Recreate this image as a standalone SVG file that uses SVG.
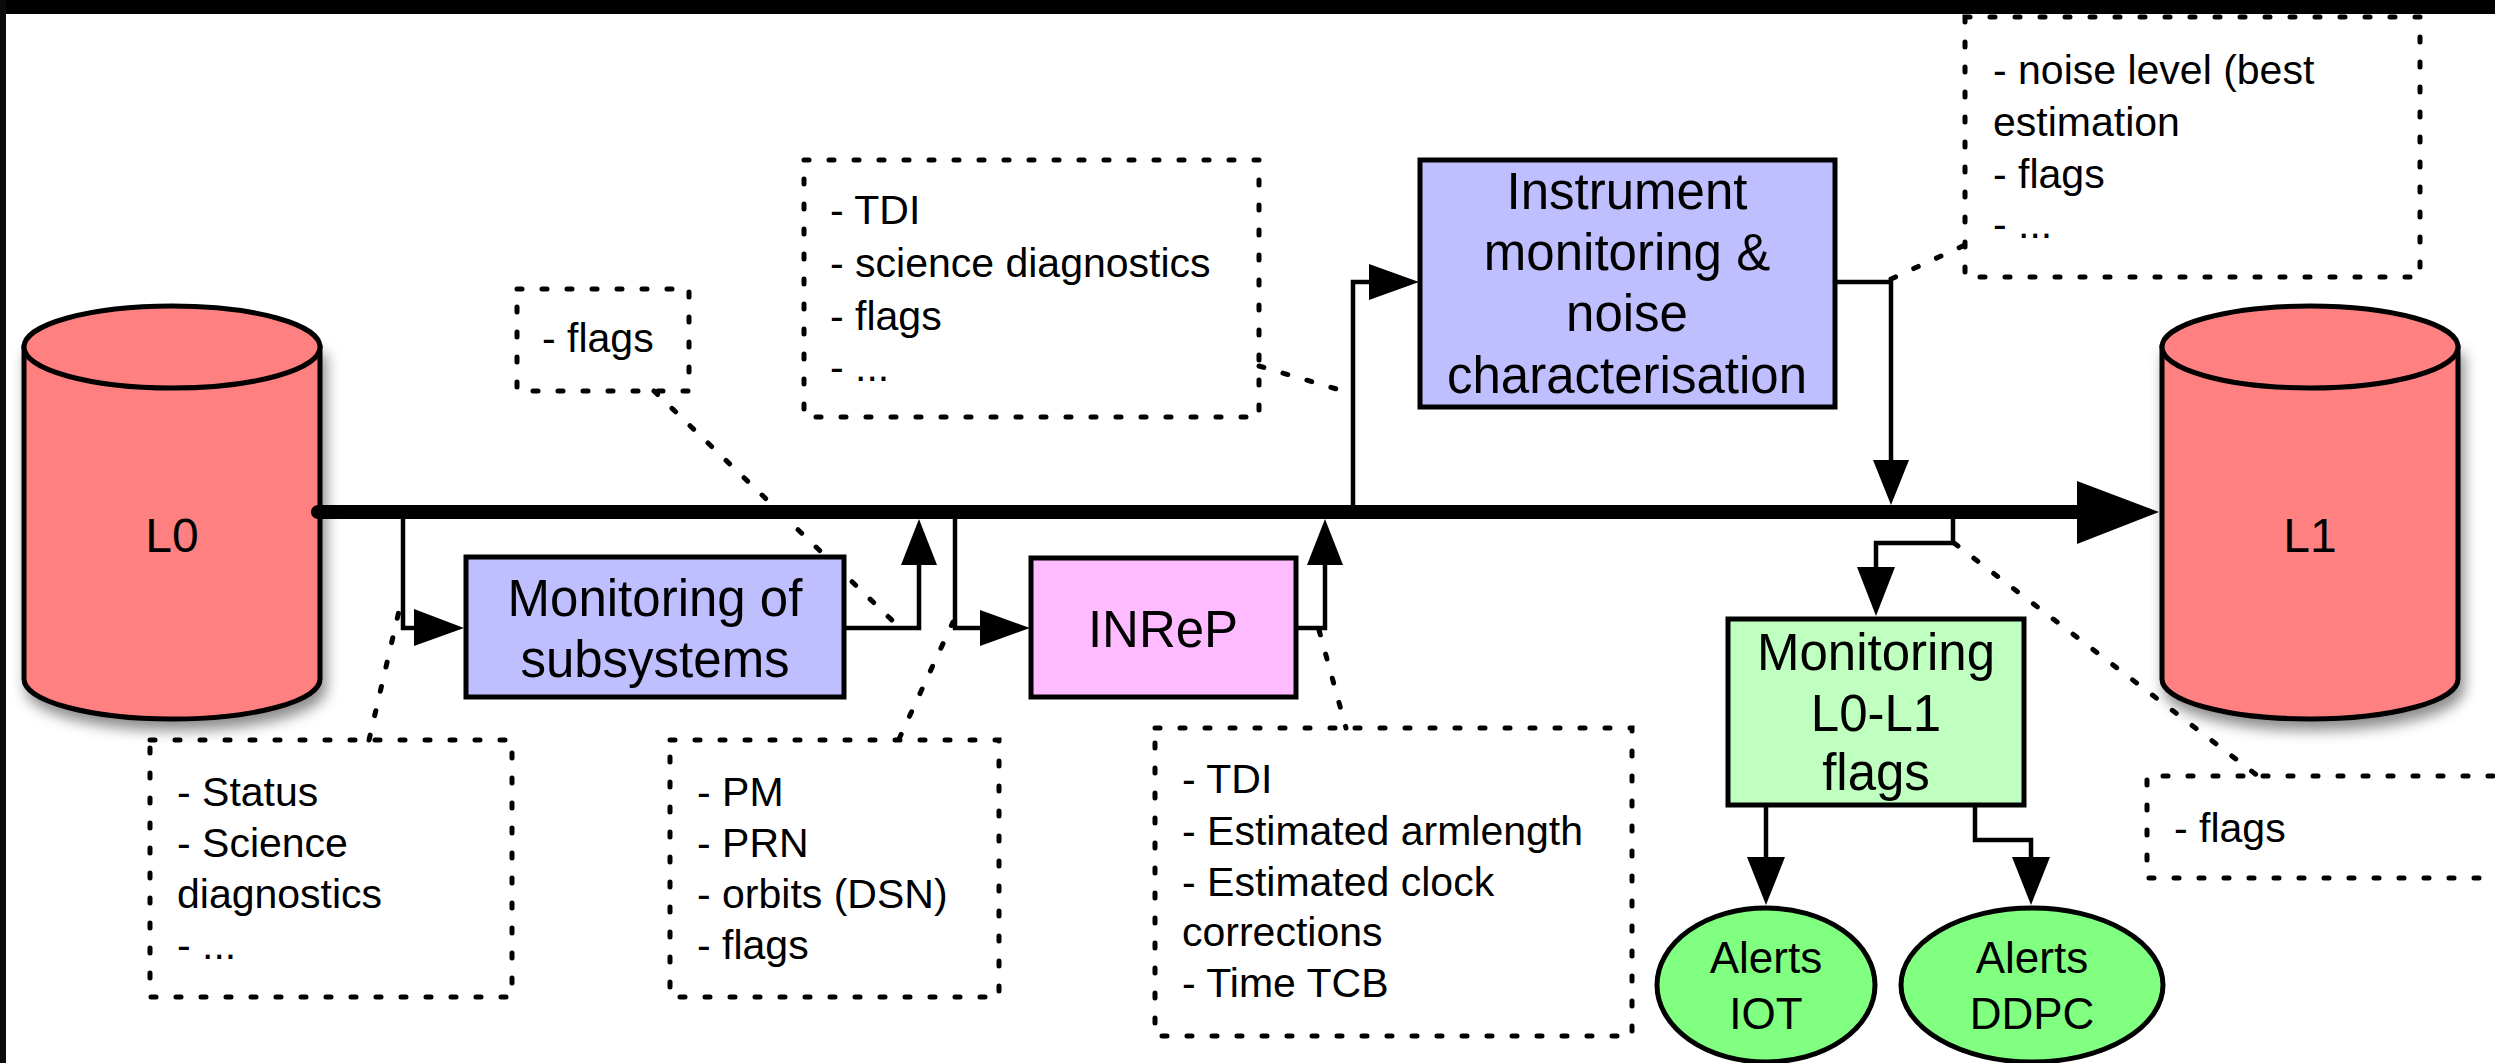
<svg xmlns="http://www.w3.org/2000/svg" width="2495" height="1063" viewBox="0 0 2495 1063">
<style>
.txt{font-family:"Liberation Sans",Arial,Helvetica,sans-serif;fill:#000}
.node{font-size:51px;text-anchor:middle}
.note{font-size:41px}
.box{stroke:#000;stroke-width:5}
.conn{fill:none;stroke:#000;stroke-width:4.5}
.dot{fill:none;stroke:#000;stroke-width:5;stroke-linecap:round;stroke-dasharray:5 20}
.ah{fill:#000}
</style>
<defs>
<filter id="sh" x="-20%" y="-20%" width="150%" height="150%">
<feDropShadow dx="4" dy="9" stdDeviation="7" flood-color="#000" flood-opacity="0.45"/>
</filter>
</defs>
<rect x="0" y="0" width="2495" height="1063" fill="#fff"/>
<rect x="0" y="0" width="2495" height="14" fill="#000"/>
<rect x="0" y="0" width="6" height="1063" fill="#0d0a07"/>

<g id="L0">
<path d="M24,347 V679 A148,40 0 0 0 320,679 V347 Z" fill="#FF8080" stroke="#000" stroke-width="5" filter="url(#sh)"/>
<ellipse cx="172" cy="347" rx="148" ry="41" fill="#FF8080" stroke="#000" stroke-width="5"/>
<text class="txt" x="172" y="552" font-size="48" text-anchor="middle">L0</text>
</g>

<g id="L1">
<path d="M2162,347 V679 A148,40 0 0 0 2458,679 V347 Z" fill="#FF8080" stroke="#000" stroke-width="5" filter="url(#sh)"/>
<ellipse cx="2310" cy="347" rx="148" ry="41" fill="#FF8080" stroke="#000" stroke-width="5"/>
<text class="txt" x="2310" y="552" font-size="48" text-anchor="middle">L1</text>
</g>

<g id="connectors">
<line x1="318" y1="512" x2="2080" y2="512" stroke="#000" stroke-width="14"/>
<circle cx="318" cy="512" r="7" fill="#000"/>
<polygon class="ah" points="2077,481 2159,512 2077,544"/>

<path class="conn" d="M403,512 V628 H416"/>
<polygon class="ah" points="414,609 464,628 414,646"/>

<path class="conn" d="M844,628 H919 V563"/>
<polygon class="ah" points="901,565 919,519 937,565"/>

<path class="conn" d="M955,519 V628 H982"/>
<polygon class="ah" points="980,610 1030,628 980,646"/>

<path class="conn" d="M1296,628 H1325 V563"/>
<polygon class="ah" points="1307,565 1325,519 1343,565"/>

<path class="conn" d="M1353,505 V282 H1371"/>
<polygon class="ah" points="1369,264 1419,282 1369,300"/>

<path class="conn" d="M1835,282 H1891 V462"/>
<polygon class="ah" points="1873,460 1891,505 1909,460"/>

<path class="conn" d="M1953,519 V543 H1876 V569"/>
<polygon class="ah" points="1857,567 1876,616 1895,567"/>

<path class="conn" d="M1766,805 V859"/>
<polygon class="ah" points="1747,857 1766,905 1785,857"/>

<path class="conn" d="M1975,805 V840 H2031 V859"/>
<polygon class="ah" points="2012,857 2031,905 2050,857"/>

<line class="dot" x1="654" y1="391" x2="897" y2="625"/>
<line class="dot" x1="369" y1="740" x2="402" y2="598"/>
<line class="dot" x1="899" y1="739" x2="953" y2="622"/>
<line class="dot" x1="1259" y1="366" x2="1350" y2="393"/>
<line class="dot" x1="1319" y1="630" x2="1346" y2="728"/>
<line class="dot" x1="1891" y1="279" x2="1965" y2="245"/>
<line class="dot" x1="1954" y1="543" x2="2258" y2="776"/>
</g>

<g id="mon-subsystems">
<rect class="box" x="466" y="557" width="378" height="140" fill="#BFBFFF"/>
<text class="txt node" x="655" y="616">Monitoring of</text>
<text class="txt node" x="655" y="677">subsystems</text>
</g>

<g id="inrep">
<rect class="box" x="1031" y="558" width="265" height="139" fill="#FFBBFF"/>
<text class="txt node" x="1163" y="647">INReP</text>
</g>

<g id="instrument">
<rect class="box" x="1420" y="160" width="415" height="247" fill="#BFBFFF"/>
<text class="txt node" x="1627" y="209">Instrument</text>
<text class="txt node" x="1627" y="270">monitoring &amp;</text>
<text class="txt node" x="1627" y="331">noise</text>
<text class="txt node" x="1627" y="393">characterisation</text>
</g>

<g id="mon-flags">
<rect class="box" x="1728" y="619" width="296" height="186" fill="#BFFFBF"/>
<text class="txt node" x="1876" y="670">Monitoring</text>
<text class="txt node" x="1876" y="731">L0-L1</text>
<text class="txt node" x="1876" y="790">flags</text>
</g>

<g id="alerts-iot">
<ellipse class="box" cx="1766" cy="985" rx="109" ry="77" fill="#80FF80"/>
<text class="txt" x="1766" y="973" font-size="44" text-anchor="middle">Alerts</text>
<text class="txt" x="1766" y="1029" font-size="44" text-anchor="middle">IOT</text>
</g>

<g id="alerts-ddpc">
<ellipse class="box" cx="2032" cy="985" rx="131" ry="77" fill="#80FF80"/>
<text class="txt" x="2032" y="973" font-size="44" text-anchor="middle">Alerts</text>
<text class="txt" x="2032" y="1029" font-size="44" text-anchor="middle">DDPC</text>
</g>

<g id="note-flags1">
<rect class="dot" x="517" y="289" width="172" height="102"/>
<text class="txt note" x="542" y="352">- flags</text>
</g>

<g id="note-tdi1">
<rect class="dot" x="804" y="160" width="455" height="257"/>
<text class="txt note" x="830" y="224">- TDI</text>
<text class="txt note" x="830" y="277">- science diagnostics</text>
<text class="txt note" x="830" y="330">- flags</text>
<text class="txt note" x="830" y="381">- ...</text>
</g>

<g id="note-status">
<rect class="dot" x="150" y="740" width="362" height="257"/>
<text class="txt note" x="177" y="806">- Status</text>
<text class="txt note" x="177" y="857">- Science</text>
<text class="txt note" x="177" y="908">diagnostics</text>
<text class="txt note" x="177" y="959">- ...</text>
</g>

<g id="note-pm">
<rect class="dot" x="670" y="740" width="329" height="257"/>
<text class="txt note" x="697" y="806">- PM</text>
<text class="txt note" x="697" y="857">- PRN</text>
<text class="txt note" x="697" y="908">- orbits (DSN)</text>
<text class="txt note" x="697" y="959">- flags</text>
</g>

<g id="note-tdi2">
<rect class="dot" x="1155" y="728" width="477" height="308"/>
<text class="txt note" x="1182" y="793">- TDI</text>
<text class="txt note" x="1182" y="845">- Estimated armlength</text>
<text class="txt note" x="1182" y="896">- Estimated clock</text>
<text class="txt note" x="1182" y="946">corrections</text>
<text class="txt note" x="1182" y="997">- Time TCB</text>
</g>

<g id="note-noise">
<rect class="dot" x="1965" y="17" width="455" height="260"/>
<text class="txt note" x="1993" y="84">- noise level (best</text>
<text class="txt note" x="1993" y="136">estimation</text>
<text class="txt note" x="1993" y="188">- flags</text>
<text class="txt note" x="1993" y="238">- ...</text>
</g>

<g id="note-flags2">
<path class="dot" d="M2493,776 H2147 V878 H2493"/>
<text class="txt note" x="2174" y="842">- flags</text>
</g>
</svg>
